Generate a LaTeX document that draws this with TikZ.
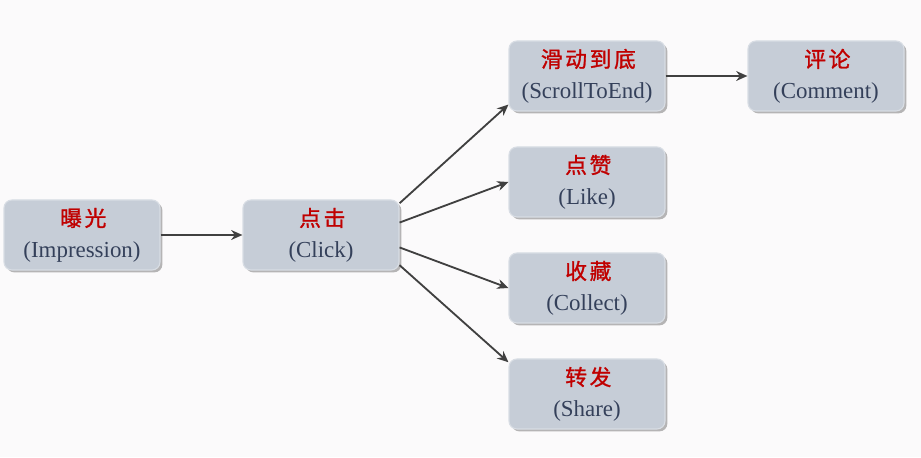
\documentclass[tikz,border=0pt]{standalone}
\usepackage{fontspec}
\setmainfont{Liberation Serif}
\newfontfamily\cnfont{Noto Sans CJK SC}[LetterSpace=12, FakeBold=1.2]
\usepackage{tikz}
\usetikzlibrary{shadows}
\usetikzlibrary{arrows.meta}

\definecolor{fondo}{HTML}{FBFAFB}
\definecolor{caja}{HTML}{C6CDD7}
\definecolor{borde}{HTML}{D8DDE4}
\definecolor{rojo}{HTML}{C00000}
\definecolor{texto}{HTML}{34405A}
\definecolor{flecha}{HTML}{404040}

\newcommand{\etiq}[2]{{\cnfont\fontsize{15.5}{22}\selectfont\color{rojo}#1\hspace{-1.9pt}}\\(#2)}

\begin{document}
\begin{tikzpicture}[every node/.style={draw=borde, line width=0.8pt, fill=caja, rounded corners=0.2cm,
    minimum width=3.9cm, minimum height=1.75cm, align=center, text=texto,
    font=\fontsize{16.3}{22}\selectfont,
    drop shadow={shadow xshift=0.06cm, shadow yshift=-0.06cm, opacity=0.4, fill=black!70}}]
            \fill[fondo] (0,0) rectangle (23.025,11.425);
            \useasboundingbox (0,0) rectangle (23.025,11.425);
            % Nodos
            \node (imp) at (2.05,5.55) {\etiq{曝光}{Impression}};
            \node (click) at (8.025,5.55) {\etiq{点击}{Click}};
            \node (scroll) at (14.675,9.525) {\etiq{滑动到底}{ScrollToEnd}};
            \node (comment) at (20.65,9.525) {\etiq{评论}{Comment}};
            \node (like) at (14.675,6.875) {\etiq{点赞}{Like}};
            \node (collect) at (14.675,4.225) {\etiq{收藏}{Collect}};
            \node (share) at (14.675,1.575) {\etiq{转发}{Share}};

            % Aristas
            \draw[-{Stealth[length=8pt,width=7pt]}, flecha, line width=1.3pt] (imp) -- (click);
            \draw[-{Stealth[length=8pt,width=7pt]}, flecha, line width=1.3pt] (click.22) -- (scroll.200);
            \draw[-{Stealth[length=8pt,width=7pt]}, flecha, line width=1.3pt] (click.9) -- (like.west);
            \draw[-{Stealth[length=8pt,width=7pt]}, flecha, line width=1.3pt] (click.-9) -- (collect.west);
            \draw[-{Stealth[length=8pt,width=7pt]}, flecha, line width=1.3pt] (click.-21) -- (share.158);
            \draw[-{Stealth[length=8pt,width=7pt]}, flecha, line width=1.3pt] (scroll) -- (comment);
          \end{tikzpicture}
\end{document}
